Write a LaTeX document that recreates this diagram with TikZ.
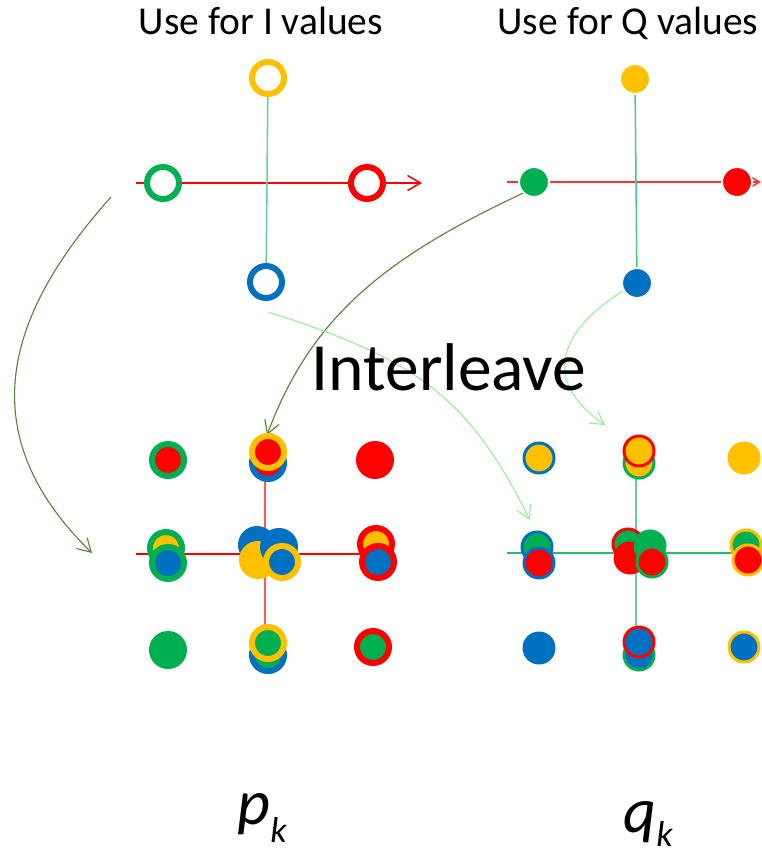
\documentclass[tikz,border=0pt]{standalone}
\usepackage{fontspec}
\setmainfont{Carlito}
\usepackage{tikz}
\usetikzlibrary{arrows.meta}
\definecolor{ored}{RGB}{255,0,0}
\definecolor{ogreen}{RGB}{0,176,80}
\definecolor{oblue}{RGB}{0,112,192}
\definecolor{oyellow}{RGB}{255,192,0}
\definecolor{olive}{RGB}{84,130,53}
\definecolor{pale}{RGB}{150,240,150}
\tikzstyle{ring}=[circle, draw, fill=white, line width=6pt, minimum size=32pt, inner sep=0pt]
\tikzstyle{dot}=[circle, draw=white, line width=2pt, minimum size=30pt, inner sep=0pt]
\tikzstyle{big}=[circle, line width=6pt, minimum size=32pt, inner sep=0pt]
\tikzstyle{small}=[circle, line width=3pt, minimum size=30pt, inner sep=0pt]
\tikzstyle{axis}=[line width=1.5pt]
\tikzstyle{move}=[line width=1.1pt, ->]
\tikzstyle{title}=[font=\fontsize{39.5}{40}\selectfont, anchor=base, inner sep=0pt]
\tikzstyle{sym}=[font=\fontsize{64}{64}\selectfont\itshape, anchor=base, inner sep=0pt]
\newcommand{\sub}[2][18pt]{\raisebox{-#1}{\fontsize{36}{36}\selectfont #2}}

\begin{document}
\begin{tikzpicture}[x=1pt, y=-1pt, >={Straight Barb[length=13pt,width=15pt]}]
		\useasboundingbox (0,0) rectangle (762,859);
		\node[title] (ti) at (261,35) {Use for I values};
		\node[title] (tq) at (628,35) {Use for Q values};

		\coordinate (il) at (136,183);
		\coordinate (ir) at (422,183);
		\coordinate (ql) at (507,182);
		\coordinate (qr) at (761,182);
		\draw[axis, ored, ->] (il) -- (ir);
		\draw[axis, ored!80, ->] (ql) -- (qr);

		\node[ring, draw=oyellow] (iyel) at (268,78) {};
		\node[ring, draw=ogreen] (igrn) at (163,183) {};
		\node[ring, draw=ored] (ired) at (367,183) {};
		\node[ring, draw=oblue] (iblu) at (266,282) {};
		\draw[axis, ogreen!60] (iyel) -- (iblu);

		\node[dot, fill=oyellow] (qyel) at (635,79) {};
		\node[dot, fill=ogreen] (qgrn) at (534,182) {};
		\node[dot, fill=ored] (qred) at (737,182) {};
		\node[dot, fill=oblue] (qblu) at (637,283) {};
		\draw[axis, ogreen!70] (qyel) -- (qblu);

		\coordinate (pl) at (136,554);
		\coordinate (pr) at (375,554);
		\coordinate (pt) at (265,460);
		\coordinate (pb) at (265,648);
		\draw[axis, ored] (pl) -- (pr);
		\draw[axis, ored!65] (pt) -- (pb);
		\coordinate (kl) at (507,553);
		\coordinate (kr) at (762,553);
		\coordinate (kt) at (636,465);
		\coordinate (kb) at (636,640);
		\draw[axis, ogreen!85] (kl) -- (kr);
		\draw[axis, ogreen!60] (kt) -- (kb);

		\coordinate (a1) at (111,197);
		\coordinate (b1) at (92,553);
		\coordinate (b2) at (267,435);
		\coordinate (a3) at (268,312);
		\coordinate (b3) at (530,520);
		\coordinate (b4) at (605,425);
		\draw[move, olive] (a1) .. controls (10,310) and (-34,430) .. (b1);
		\draw[move, olive] (qgrn.225) .. controls (380,260) and (310,320) .. (b2);
		\draw[move, pale] (a3) .. controls (420,360) and (470,400) .. (b3);
		\draw[move, pale] (qblu.210) .. controls (560,330) and (540,380) .. (b4);

		\node[big, draw=ogreen, fill=ored] (p1) at (168,460) {};
		\node[big, draw=oblue, fill=ored] (p2b) at (268,463) {};
		\node[big, draw=oyellow, fill=ored] (p2a) at (268,452) {};
		\node[big, draw=ored, fill=ored] (p3) at (375,460) {};
		\node[big, draw=ogreen, fill=oyellow] (p4a) at (166,548) {};
		\node[big, draw=ogreen, fill=oblue] (p4b) at (168,563) {};
		\node[big, draw=oblue, fill=oblue] (p5a) at (257,545) {};
		\node[big, draw=oyellow, fill=oyellow] (p5c) at (258,560) {};
		\node[big, draw=oblue, fill=oblue] (p5b) at (279,547) {};
		\node[big, draw=oyellow, fill=oblue] (p5d) at (282,562) {};
		\node[big, draw=ored, fill=oyellow] (p6a) at (376,544) {};
		\node[big, draw=ored, fill=oblue] (p6b) at (378,562) {};
		\node[big, draw=ogreen, fill=ogreen] (p7) at (168,650) {};
		\node[big, draw=oblue, fill=ogreen] (p8b) at (268,655) {};
		\node[big, draw=oyellow, fill=ogreen] (p8a) at (268,643) {};
		\node[big, draw=ored, fill=ogreen] (p9) at (373,647) {};

		\node[small, draw=oblue, fill=oyellow] (q1) at (539,458) {};
		\node[small, draw=ogreen, fill=oyellow] (q2b) at (639,463) {};
		\node[small, draw=ored, fill=oyellow] (q2a) at (639,451) {};
		\node[small, draw=oyellow, fill=oyellow] (q3) at (744,458) {};
		\node[small, draw=oblue, fill=ogreen] (q4a) at (537,547) {};
		\node[small, draw=oblue, fill=ored] (q4b) at (539,563) {};
		\node[small, draw=ored, fill=ogreen] (q5a) at (628,544) {};
		\node[small, draw=ored, fill=ored] (q5c) at (630,558) {};
		\node[small, draw=ogreen, fill=ogreen] (q5b) at (650,546) {};
		\node[small, draw=ogreen, fill=ored] (q5d) at (652,562) {};
		\node[small, draw=oyellow, fill=ogreen] (q6a) at (746,545) {};
		\node[small, draw=oyellow, fill=ored] (q6b) at (748,560) {};
		\node[small, draw=oblue, fill=oblue] (q7) at (539,648) {};
		\node[small, draw=ogreen, fill=oblue] (q8b) at (639,655) {};
		\node[small, draw=ored, fill=oblue] (q8a) at (639,642) {};
		\node[small, draw=oyellow, fill=oblue] (q9) at (744,647) {};

		\node[font=\fontsize{67.5}{68}\selectfont, anchor=base, inner sep=0pt] (mix) at (449,390) {Interleave};
		\node[sym] (pk) at (262,824) {p\sub{k}};
		\node[sym] (qk) at (648,832) {q\sub[14pt]{k}};
	\end{tikzpicture}
\end{document}
